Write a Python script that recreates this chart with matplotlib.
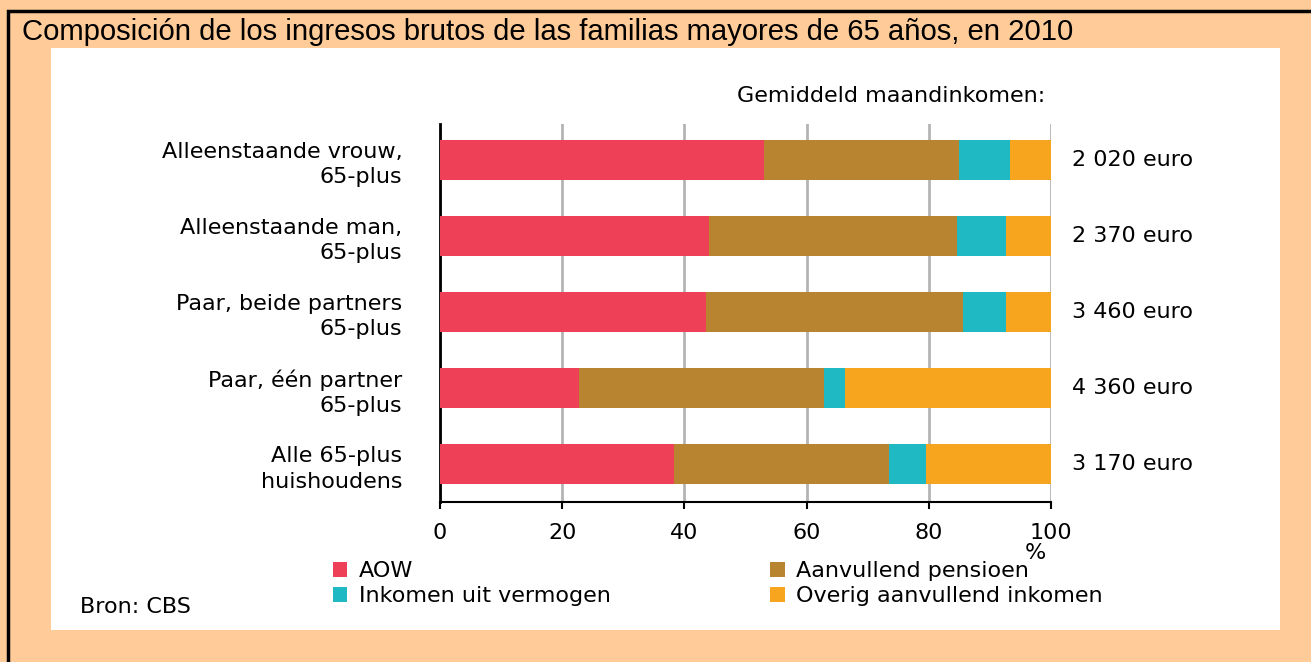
import matplotlib.pyplot as plt
from matplotlib.patches import Rectangle
import numpy as np

W, H = 1311, 662

categories = ['Alleenstaande vrouw,\n65-plus', 'Alleenstaande man,\n65-plus',
              'Paar, beide partners\n65-plus', 'Paar, één partner\n65-plus',
              'Alle 65-plus\nhuishoudens']
incomes = ['2 020 euro', '2 370 euro', '3 460 euro', '4 360 euro', '3 170 euro']
series = ['AOW', 'Aanvullend pensioen', 'Inkomen uit vermogen', 'Overig aanvullend inkomen']
aow = [53.1, 44.0, 43.5, 22.7, 38.3]
pensioen = [31.9, 40.6, 42.1, 40.1, 35.2]
vermogen = [8.3, 8.1, 7.1, 3.5, 6.0]
overig = [6.7, 7.3, 7.3, 33.7, 20.5]
colors = ['#ee4057', '#b8842f', '#1fb9c4', '#f7a41e']

chart_font = 'DejaVu Sans'
fs = 16

fig = plt.figure(figsize=(W / 100, H / 100), dpi=100)
fig.patch.set_facecolor('#ffcc99')


def fx(x):
    return x / W


def fy(y):
    return 1 - y / H


# black frame on top/left, white panel behind the chart
fig.add_artist(Rectangle((fx(8), -0.1), 1, fy(11) + 0.1, transform=fig.transFigure,
                         facecolor='none', edgecolor='black', linewidth=2.5, zorder=-2))
fig.add_artist(Rectangle((fx(51), fy(630)), fx(1280 - 51), fy(48) - fy(630),
                         transform=fig.transFigure, facecolor='white', edgecolor='none',
                         zorder=-2))

fig.text(fx(22), fy(32), 'Composición de los ingresos brutos de las familias mayores de 65 años, en 2010',
         fontsize=21.1, family='Liberation Sans', va='center', ha='left')

ax = fig.add_axes([fx(440), fy(502), fx(1051 - 440), fy(124) - fy(502)])
ax.set_facecolor('none')
y = np.arange(len(categories))
left = np.zeros(len(categories))
bars = []
for vals, c, name in zip([aow, pensioen, vermogen, overig], colors, series):
    b = ax.barh(y, vals, left=left, height=0.526, color=c, label=name, zorder=3)
    bars.append(b)
    left += np.array(vals)

ax.set_xlim(0, 100)
ax.set_ylim(4.5, -0.47)
ax.set_xticks([0, 20, 40, 60, 80, 100])
ax.set_yticks(y)
ax.set_yticklabels(categories, family=chart_font, fontsize=fs, linespacing=1.35)
ax.tick_params(axis='y', length=0, pad=27)
ax.tick_params(axis='x', direction='out', length=5, width=1.5, pad=10, labelsize=fs)
for lab in ax.get_xticklabels():
    lab.set_family(chart_font)
ax.grid(axis='x', color='#b4b4b4', linewidth=2, zorder=1)
ax.spines['top'].set_visible(False)
ax.spines['right'].set_visible(False)
ax.spines['left'].set_linewidth(2)
ax.spines['bottom'].set_linewidth(1.5)

for i, t in enumerate(incomes):
    ax.text(1.034, i, t, transform=ax.get_yaxis_transform(), va='center', ha='left',
            family=chart_font, fontsize=fs)

fig.text(fx(1045), fy(96), 'Gemiddeld maandinkomen:', ha='right', va='center',
         family=chart_font, fontsize=fs)
fig.text(fx(1035), fy(553), '%', ha='center', va='center', family=chart_font, fontsize=fs)
fig.text(fx(80), fy(607), 'Bron: CBS', ha='left', va='center', family=chart_font, fontsize=fs)

order = [0, 2, 1, 3]
fig.legend([bars[k] for k in order], [series[k] for k in order], ncol=2,
           loc='upper left', bbox_to_anchor=(fx(333), fy(561)), frameon=False,
           prop={'family': chart_font, 'size': fs}, handlelength=0.65, handleheight=0.65,
           handletextpad=0.5, columnspacing=7.2, labelspacing=0.22, borderpad=0,
           borderaxespad=0)

fig.savefig('out.png', dpi=100, facecolor=fig.get_facecolor())
